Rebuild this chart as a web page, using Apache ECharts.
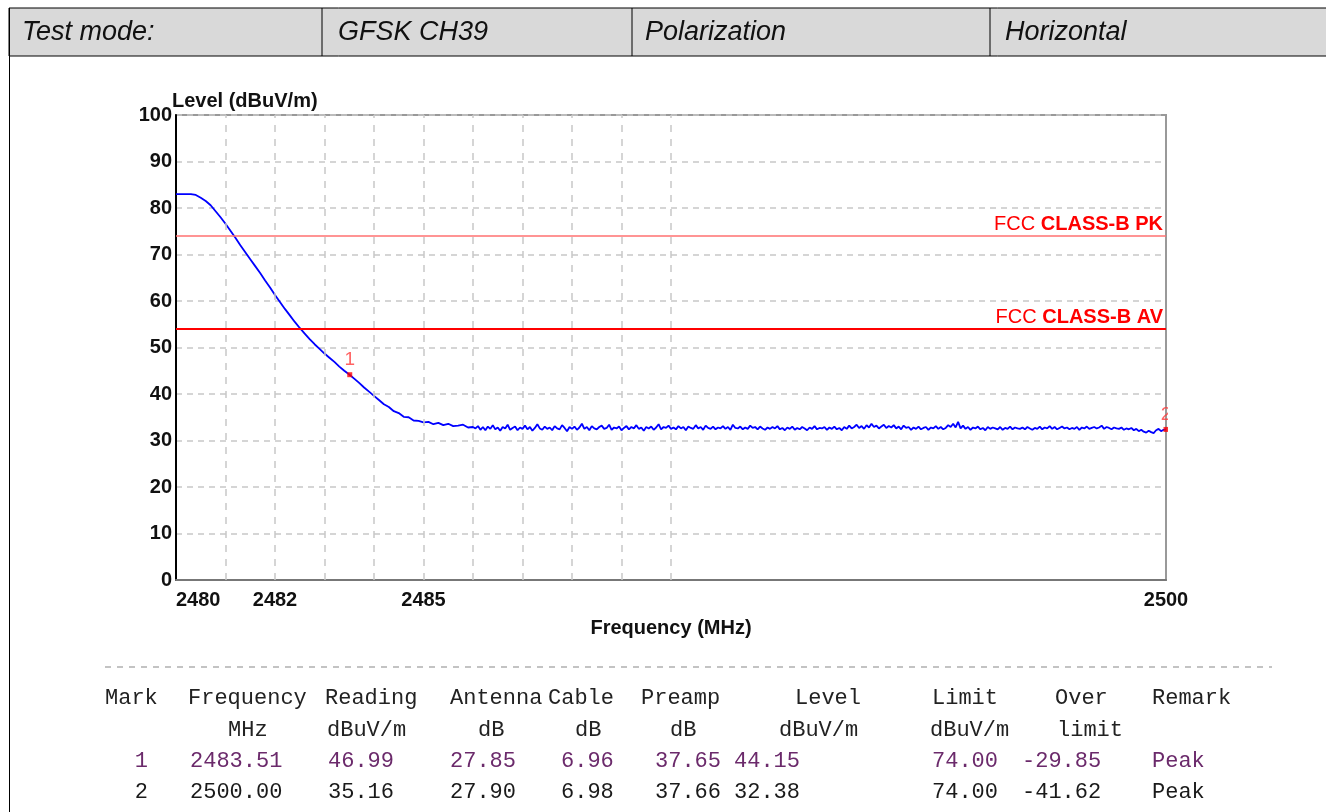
<!DOCTYPE html>
<html>
<head>
<meta charset="utf-8">
<script src="https://cdn.jsdelivr.net/npm/echarts@6/dist/echarts.min.js"></script>
<style>
html,body{margin:0;padding:0;background:#fff;}
#c{width:1326px;height:812px;}
</style>
</head>
<body>
<div id="c"></div>
<script>
// ---- data ----
const headerCells = ['Test mode:', 'GFSK CH39', 'Polarization', 'Horizontal'];
const yTicks = [0, 10, 20, 30, 40, 50, 60, 70, 80, 90, 100];
const xTickLabels = [2480, 2482, 2485, 2500];
const xGridFreqs = [2481, 2482, 2483, 2484, 2485, 2486, 2487, 2488, 2489, 2490];
// roll-off part of the sweep: 2480.0 .. 2486.0 MHz, 0.1 MHz steps
const rolloffStart = 2480.0;
const rolloffStep = 0.1;
const rolloffLevels = [
  83.0,83.0,83.0,83.0,82.8,82.2,81.5,80.6,79.3,78.0,
  76.6,75.1,73.6,72.0,70.5,69.0,67.5,66.0,64.4,62.9,
  61.3,59.8,58.3,56.9,55.5,54.2,53.0,51.8,50.7,49.7,
  48.7,47.8,46.9,45.9,45.0,44.2,43.3,42.4,41.4,40.5,
  39.6,38.7,37.8,37.2,36.3,35.9,35.1,35.0,34.3,34.2,
  33.9,34.0,33.5,33.8,33.3,33.6,33.1,33.2,33.4,32.8,
  32.9
];
// noise-floor part of the sweep: 2486.05 .. 2500.00 MHz, 0.05 MHz steps
const floorStart = 2486.05;
const floorStep = 0.05;
const floorLevels = [
  32.6,33.1,32.3,32.9,32.2,33.0,32.5,33.3,32.4,32.8,
  32.1,32.9,32.6,33.4,32.3,32.7,33.0,32.2,32.8,32.5,
  33.2,32.4,32.9,32.1,32.7,33.5,32.6,32.3,33.0,32.5,
  32.8,32.2,33.1,32.6,32.4,33.3,32.7,32.0,32.9,32.5,
  33.0,32.3,32.8,33.6,32.5,32.9,32.2,33.1,32.6,32.4,
  32.9,33.2,32.5,32.7,33.4,32.3,32.8,32.6,33.0,32.2,
  32.7,33.1,32.4,32.9,32.6,33.3,32.5,32.8,32.1,32.9,
  32.6,33.0,32.3,32.8,33.5,32.4,32.9,32.7,33.2,32.5,
  32.8,32.4,33.1,32.6,32.9,32.2,33.0,32.7,32.5,33.3,
  32.6,32.9,32.3,33.2,32.7,32.5,33.0,32.4,32.8,32.6,
  33.1,32.5,32.9,32.3,33.4,32.7,32.6,33.0,32.4,32.8,
  32.5,33.2,32.7,32.9,32.4,33.0,32.6,32.3,32.8,32.5,
  32.9,32.6,33.1,32.4,32.7,32.2,32.8,32.5,33.0,32.3,
  32.7,32.4,32.9,32.6,32.2,32.8,32.5,33.1,32.4,32.7,
  32.6,32.9,32.3,32.8,32.5,33.0,32.4,32.7,32.2,32.9,
  32.5,33.2,32.6,32.9,33.4,32.7,33.1,32.5,33.3,32.8,
  33.6,32.9,33.2,32.6,33.0,33.4,32.7,33.1,32.8,33.3,
  32.6,33.0,32.4,33.2,32.7,32.9,32.3,32.8,32.5,33.0,
  32.4,32.7,32.9,32.3,32.8,32.6,33.1,32.5,32.9,32.4,
  32.7,33.3,32.9,33.6,32.8,34.0,32.6,33.2,32.5,32.9,
  32.3,32.8,32.6,33.0,32.4,32.7,32.2,32.9,32.5,32.8,
  32.6,32.4,32.9,32.3,32.7,32.5,33.0,32.4,32.8,32.6,
  32.5,32.8,32.4,32.9,32.6,32.3,32.7,32.5,33.0,32.4,
  32.8,32.6,33.1,32.5,32.9,32.4,32.7,33.0,32.6,32.8,
  32.4,32.7,32.5,32.9,32.3,32.8,32.6,33.0,32.5,32.7,
  32.9,32.6,32.8,33.2,32.5,32.9,32.7,32.4,32.8,32.6,
  32.5,32.8,32.3,32.6,32.4,32.7,32.2,32.5,32.0,32.3,
  31.9,31.7,32.1,31.8,31.6,32.2,32.5,32.0,32.3,32.38
];
const limitNames = ['CLASS-B PK', 'CLASS-B AV'];
const limitValues = [74, 54];
const markFreqs = [2483.51, 2500.00];
const markLevels = [44.15, 32.38];
const tableHead1 = ['Mark','Frequency','Reading','Antenna','Cable','Preamp','Level','Limit','Over','Remark'];
const tableHead2 = ['','MHz','dBuV/m','dB','dB','dB','dBuV/m','dBuV/m','limit',''];
const tableRow1 = ['1','2483.51','46.99','27.85','6.96','37.65','44.15','74.00','-29.85','Peak'];
const tableRow2 = ['2','2500.00','35.16','27.90','6.98','37.66','32.38','74.00','-41.62','Peak'];

// ---- layout (positions only) ----
const headX = [22, 338, 645, 1005];
const headDiv = [322, 632, 990];
const h1X = [105, 188, 325, 450, 548, 641, 795, 932, 1055, 1152];
const h2X = [0, 228, 327, 478, 575, 670, 779, 930, 1057, 0];
const rX = [148, 190, 328, 450, 561, 655, 734, 932, 1022, 1152];
const rowY = [698, 730, 761, 792];

const chart = echarts.init(document.getElementById('c'), null, {renderer: 'canvas'});

const lineData = rolloffLevels.map((v, i) => [+(rolloffStart + i * rolloffStep).toFixed(2), v])
  .concat(floorLevels.map((v, i) => [+(floorStart + i * floorStep).toFixed(2), v]));
const markData = markFreqs.map((f, i) => [f, markLevels[i]]);

const graphics = [];
// header table
graphics.push({type: 'rect', shape: {x: 9, y: 8, width: 1330, height: 48}, style: {fill: '#d9d9d9', stroke: '#000', lineWidth: 1}, z: 1});
headDiv.forEach(x => graphics.push({type: 'line', shape: {x1: x, y1: 8, x2: x, y2: 56}, style: {stroke: '#000', lineWidth: 1}, z: 2}));
graphics.push({type: 'line', shape: {x1: 9.5, y1: 8, x2: 9.5, y2: 812}, style: {stroke: '#000', lineWidth: 1}, z: 2});
headerCells.forEach((t, i) => graphics.push({type: 'text', x: headX[i], y: 32, z: 3,
  style: {text: t, fill: '#111', font: 'italic 27px "Liberation Sans", Arial, sans-serif', align: 'left', verticalAlign: 'middle'}}));
// dashed separator
graphics.push({type: 'line', shape: {x1: 105, y1: 667, x2: 1272, y2: 667}, style: {stroke: '#888', lineWidth: 1, lineDash: [6, 6]}, z: 2});
const mono = '22px "Liberation Mono", "DejaVu Sans Mono", monospace';
tableHead1.forEach((t, i) => graphics.push({type: 'text', x: h1X[i], y: rowY[0], z: 3, style: {text: t, fill: '#222', font: mono, verticalAlign: 'middle'}}));
tableHead2.forEach((t, i) => { if (t) graphics.push({type: 'text', x: h2X[i], y: rowY[1], z: 3, style: {text: t, fill: '#222', font: mono, verticalAlign: 'middle'}}); });
[tableRow1, tableRow2].forEach((row, r) => row.forEach((t, i) => graphics.push({type: 'text', x: rX[i], y: rowY[2 + r], z: 3,
  style: {text: t, fill: r === 0 ? '#6b2a6b' : '#1a1a1a', font: mono, align: i === 0 ? 'right' : 'left', verticalAlign: 'middle'}})));
// clip marker 2 label at frame edge
graphics.push({type: 'rect', shape: {x: 1168, y: 395, width: 22, height: 40}, style: {fill: '#fff'}, z: 100});

const option = {
  animation: false,
  backgroundColor: '#fff',
  grid: {left: 176, top: 115, width: 990, height: 465, show: true, borderColor: '#999', borderWidth: 2, backgroundColor: 'transparent'},
  xAxis: {
    type: 'value', min: 2480, max: 2500,
    name: 'Frequency (MHz)', nameLocation: 'middle', nameGap: 38,
    nameTextStyle: {fontFamily: 'Liberation Sans', fontWeight: 'bold', fontSize: 20, color: '#111'},
    axisLine: {show: true, onZero: false, lineStyle: {color: '#777', width: 2}},
    axisTick: {show: false},
    splitLine: {show: false},
    axisLabel: {customValues: xTickLabels, margin: 10, fontFamily: 'Liberation Sans', fontWeight: 'bold', fontSize: 20, color: '#111',
      alignMinLabel: 'left', formatter: v => String(v)}
  },
  yAxis: {
    type: 'value', min: 0, max: 100, interval: 10,
    name: 'Level (dBuV/m)', nameLocation: 'end', nameGap: 14, nameMoveOverlap: false,
    nameTextStyle: {fontFamily: 'Liberation Sans', fontWeight: 'bold', fontSize: 20, color: '#111', align: 'left', verticalAlign: 'middle', padding: [0, 0, 0, -4]},
    axisLine: {show: true, lineStyle: {color: '#000', width: 2}},
    axisTick: {show: false},
    splitLine: {show: true, lineStyle: {color: '#c8c8c8', type: [6, 5], width: 1.5}},
    axisLabel: {margin: 4, fontFamily: 'Liberation Sans', fontWeight: 'bold', fontSize: 20, color: '#111',
      customValues: yTicks}
  },
  graphic: graphics,
  series: [
    {
      type: 'line', name: 'grid', data: [], silent: true,
      markLine: {silent: true, symbol: 'none', label: {show: false},
        lineStyle: {color: '#c8c8c8', type: [7, 7], width: 1.5},
        data: xGridFreqs.map(f => ({xAxis: f}))}
    },
    {
      type: 'line', name: 'limits', data: [], silent: true, z: 3,
      markLine: {silent: true, symbol: 'none',
        data: limitValues.map((v, i) => ({yAxis: v,
          lineStyle: {color: i === 0 ? '#ff7070' : '#ff0000', width: i === 0 ? 1.5 : 2, type: 'solid'},
          label: {show: true, position: 'insideEndTop', distance: [3, 1],
            formatter: '{a|FCC }{b|' + limitNames[i] + '}',
            rich: {a: {fontFamily: 'Liberation Sans', fontSize: 20, color: '#ff0000'},
                   b: {fontFamily: 'Liberation Sans', fontSize: 20, fontWeight: 'bold', color: '#ff0000'}}}}))}
    },
    {
      type: 'line', name: 'Level', data: lineData, showSymbol: false, z: 4,
      lineStyle: {color: '#0000ff', width: 1.8}, itemStyle: {color: '#0000ff'}
    },
    {
      type: 'scatter', name: 'marks', data: markData, z: 5,
      symbol: 'rect', symbolSize: 5, itemStyle: {color: '#ff0000'},
      label: {show: true, position: 'top', distance: 3, formatter: p => String(p.dataIndex + 1),
        fontFamily: 'Liberation Sans', fontSize: 19, color: '#ff3b3b'}
    }
  ]
};
chart.setOption(option);
</script>
</body>
</html>
